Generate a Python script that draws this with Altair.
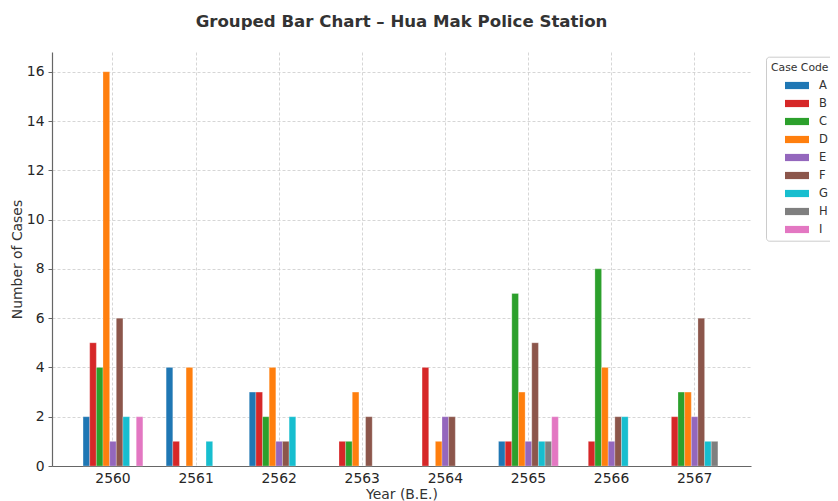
import altair as alt
import pandas as pd

years = ["2560", "2561", "2562", "2563", "2564", "2565", "2566", "2567"]
codes = ["A", "B", "C", "D", "E", "F", "G", "H", "I"]
A = [2, 4, 3, 0, 0, 1, 0, 0]
B = [5, 1, 3, 1, 4, 1, 1, 2]
C = [4, 0, 2, 1, 0, 7, 8, 3]
D = [16, 4, 4, 3, 1, 3, 4, 3]
E = [1, 0, 1, 0, 2, 1, 1, 2]
F = [6, 0, 1, 2, 2, 5, 2, 6]
G = [2, 1, 2, 0, 0, 1, 2, 1]
H = [0, 0, 0, 0, 0, 1, 0, 1]
I = [2, 0, 0, 0, 0, 2, 0, 0]
colors = ["#1f77b4", "#d62728", "#2ca02c", "#ff7f0e", "#9467bd",
          "#8c564b", "#17becf", "#7f7f7f", "#e377c2"]

series = {"A": A, "B": B, "C": C, "D": D, "E": E, "F": F, "G": G, "H": H, "I": I}
rows = []
for code in codes:
    for y, v in zip(years, series[code]):
        rows.append({"year": y, "code": code, "count": v})
df = pd.DataFrame(rows)

FONT = "DejaVu Sans"

chart = alt.Chart(df).transform_filter("datum.count > 0").mark_bar(
    stroke="white", strokeWidth=0.5, strokeOpacity=0.5
).encode(
    x=alt.X("year:O",
            scale=alt.Scale(domain=years, paddingInner=0.28, paddingOuter=0.346, align=0.54),
            axis=alt.Axis(title="Year (B.E.)", labelAngle=0, bandPosition=0.5, grid=True,
                          ticks=False, labelPadding=5, titlePadding=3)),
    xOffset=alt.XOffset("code:N", scale=alt.Scale(domain=codes)),
    y=alt.Y("count:Q",
            scale=alt.Scale(domain=[0, 16.8], nice=False, zero=True),
            axis=alt.Axis(title="Number of Cases", values=list(range(0, 17, 2)),
                          ticks=True, tickSize=4, labelPadding=4, titlePadding=2)),
    color=alt.Color("code:N",
                    scale=alt.Scale(domain=codes, range=colors),
                    legend=alt.Legend(
                        title="Case Code", orient="none", legendX=714, legendY=4.7,
                        padding=5, strokeColor="#cccccc", fillColor="white",
                        cornerRadius=3, symbolType="M1.333,-0.6H5.333V0.6H1.333Z",
                        symbolSize=144, symbolStrokeWidth=0, symbolOpacity=1,
                        labelOffset=36, rowPadding=6, titleFontSize=10.8,
                        labelFontSize=11.5, titleFontWeight="normal", titlePadding=7,
                        titleFont=FONT, labelFont=FONT, titleColor="#333333",
                        labelColor="#333333")),
).properties(
    width=699,
    height=414,
    title=alt.TitleParams("Grouped Bar Chart – Hua Mak Police Station",
                          fontSize=16.6, fontWeight="bold", font=FONT,
                          color="#333333", anchor="middle", offset=21),
    autosize=alt.AutoSizeParams(type="none"),
    padding={"left": 44, "top": 44, "right": 79, "bottom": 35},
).configure_view(
    stroke=None
).configure_axis(
    labelFont=FONT, titleFont=FONT, labelFontSize=13.9, titleFontSize=13.9,
    labelColor="#262626", titleColor="#333333", titleFontWeight="normal",
    domainColor="#666666", domainWidth=1.2, tickColor="#666666",
    gridColor="#cccccc", gridDash=[3, 2], gridWidth=0.8,
)

chart.save("out.html", embed_options={"renderer": "svg", "actions": False})
